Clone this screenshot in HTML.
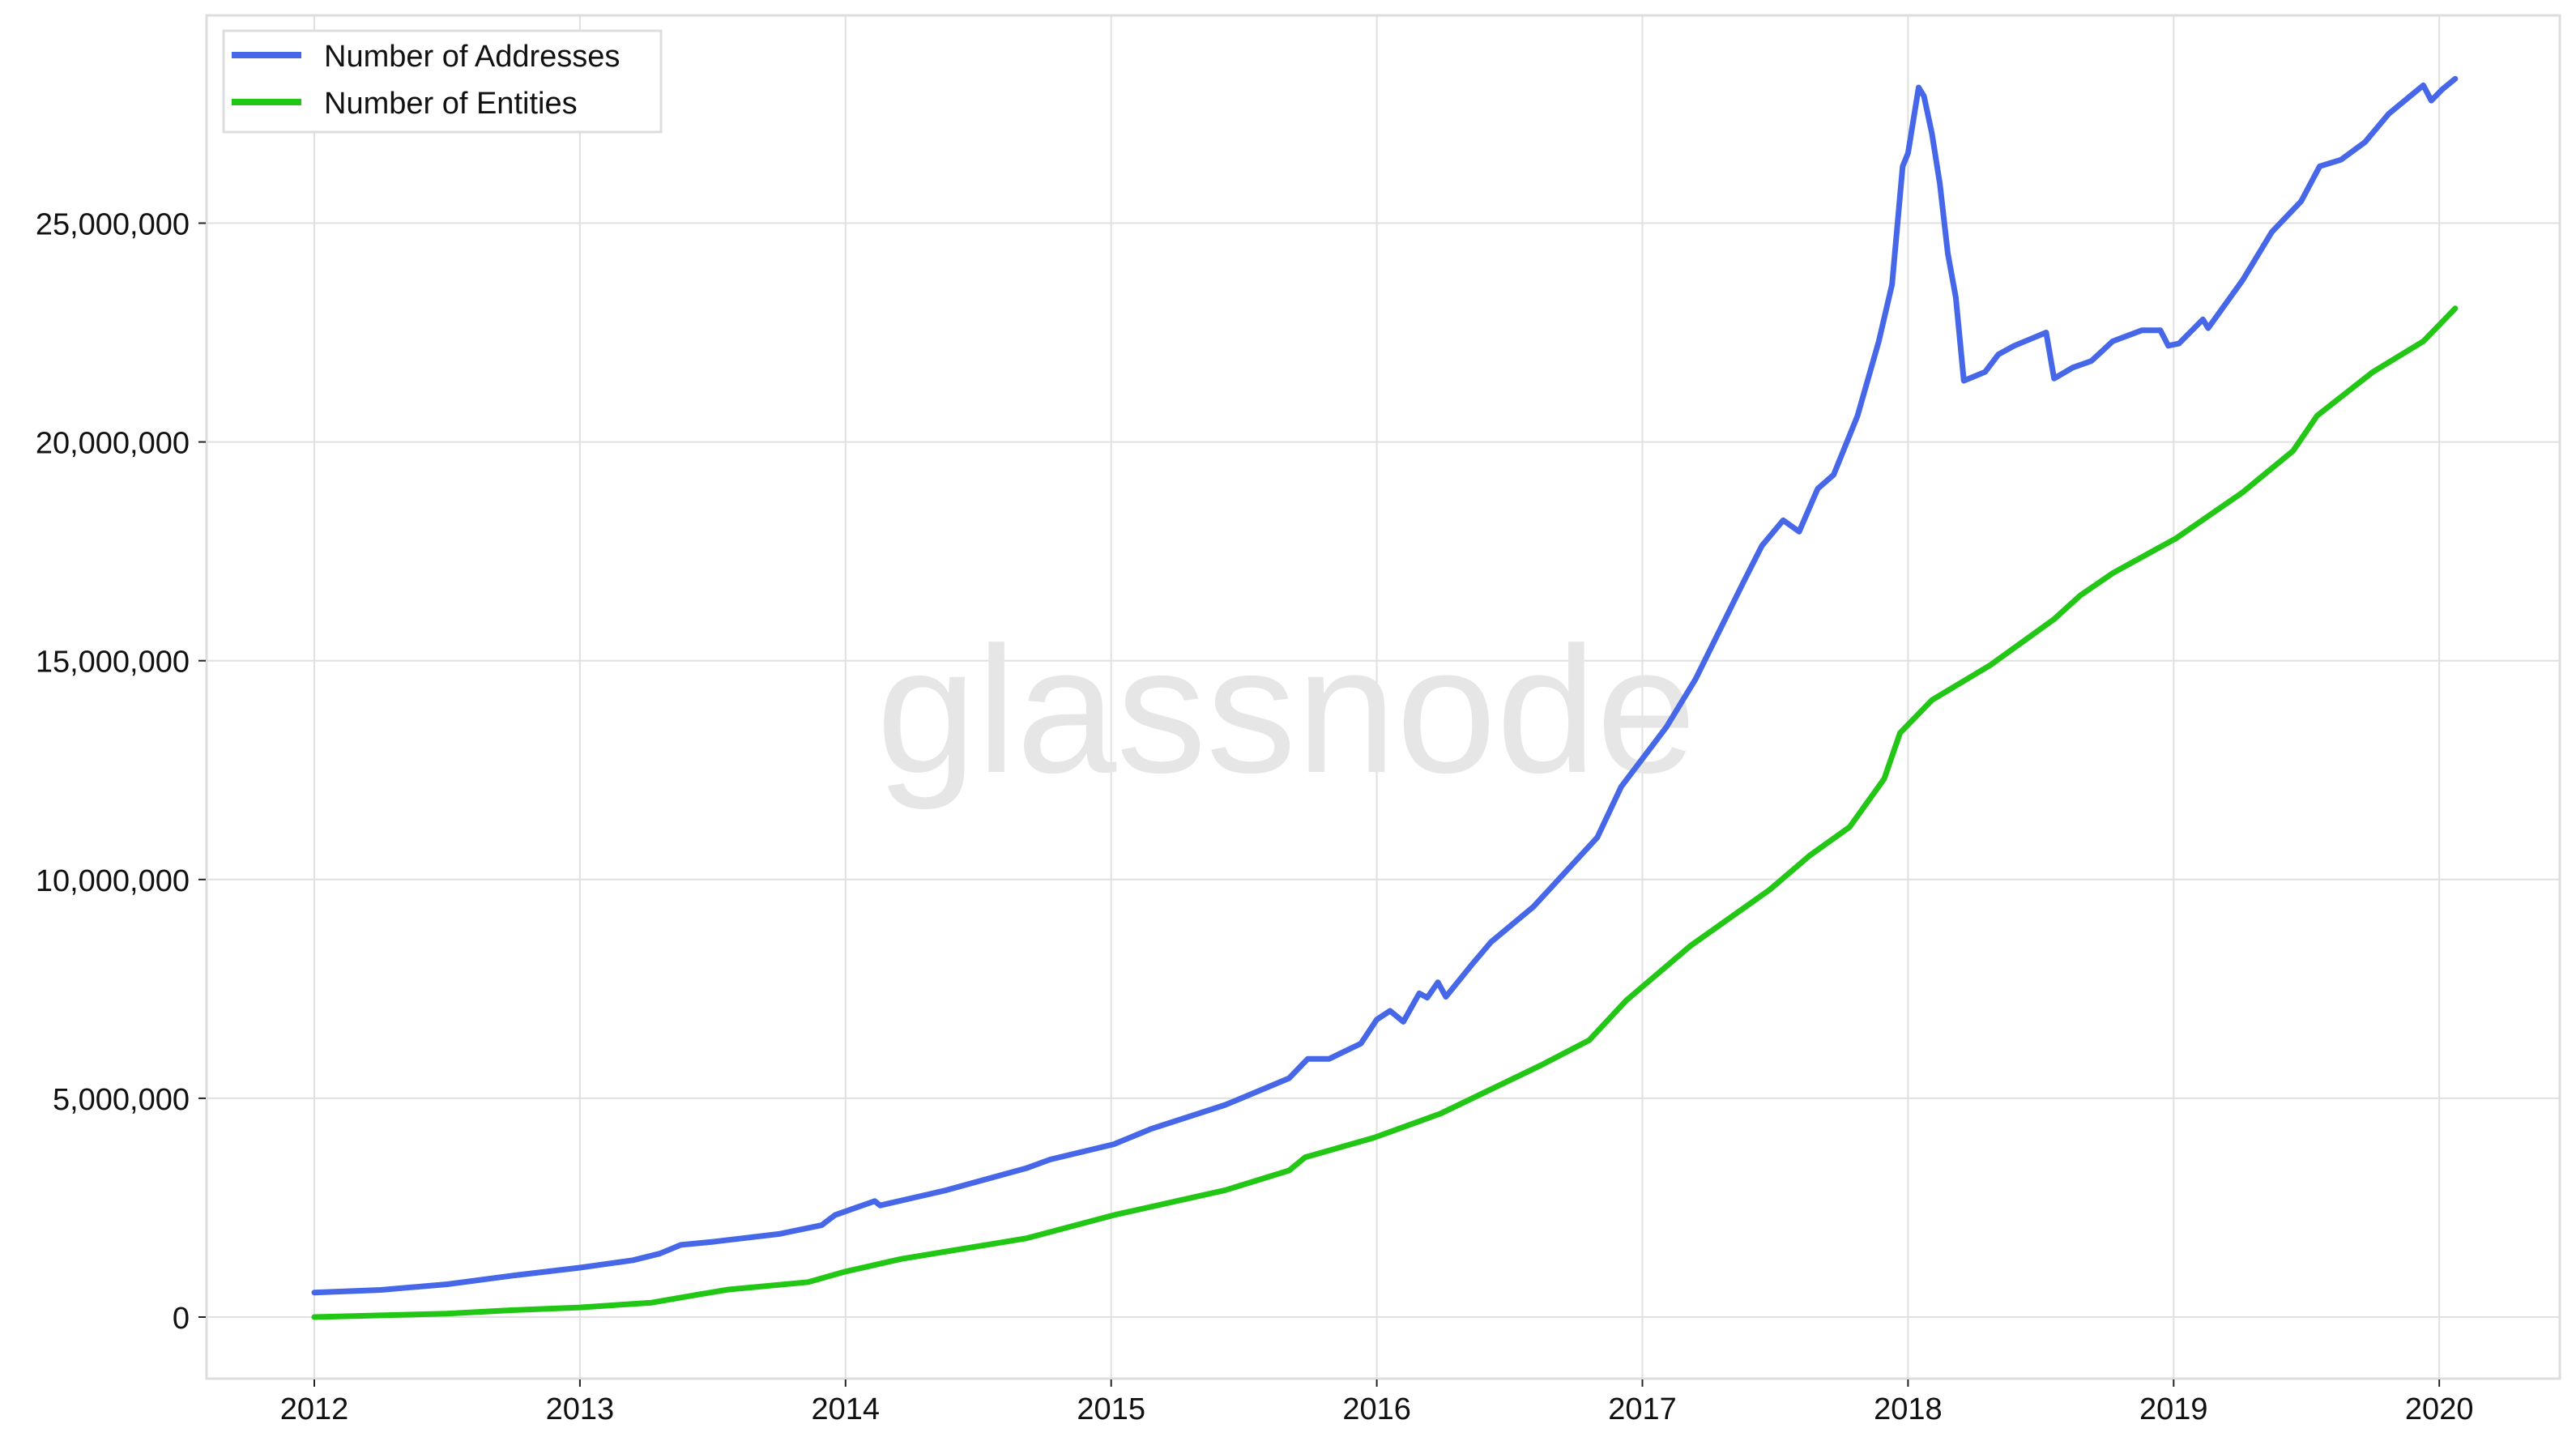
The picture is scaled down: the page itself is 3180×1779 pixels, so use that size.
<!DOCTYPE html>
<html><head><meta charset="utf-8"><style>
html,body{margin:0;padding:0;background:#fff;}
svg{display:block;font-family:"Liberation Sans",Arial,sans-serif;}
</style></head><body>
<svg id="chart" width="3180" height="1779" viewBox="0 0 3180 1779" xmlns="http://www.w3.org/2000/svg">
<rect x="0" y="0" width="3180" height="1779" fill="#fff"/>
<g id="grid"></g>
<text x="1588" y="953" text-anchor="middle" font-size="222" fill="#e6e6e6">glassnode</text>
<g id="series"></g>
<rect x="255" y="19" width="2905" height="1683" fill="none" stroke="#dddddd" stroke-width="3"/>
<g id="axes"></g>
<g>
<rect x="276" y="38" width="540" height="125" fill="#fff" stroke="#dddddd" stroke-width="3"/>
<line x1="286" y1="68" x2="372" y2="68" stroke="#4668e8" stroke-width="8"/>
<text x="400" y="82" font-size="38" fill="#111">Number of Addresses</text>
<line x1="286" y1="126" x2="372" y2="126" stroke="#22c614" stroke-width="8"/>
<text x="400" y="140" font-size="38" fill="#111">Number of Entities</text>
</g>
</svg>
<script>
const yearTicks = [2012,2013,2014,2015,2016,2017,2018,2019,2020];
const valueTicks = [0,5,10,15,20,25];
const valueTickLabels = ["0","5,000,000","10,000,000","15,000,000","20,000,000","25,000,000"];
const addrDates = [2012.0,2012.25,2012.5,2012.75,2013.0,2013.2,2013.3,2013.38,2013.5,2013.75,2013.91,2013.96,2014.11,2014.13,2014.38,2014.68,2014.77,2015.01,2015.15,2015.43,2015.67,2015.74,2015.82,2015.94,2016.0,2016.05,2016.10,2016.16,2016.19,2016.23,2016.26,2016.36,2016.43,2016.59,2016.83,2016.92,2017.09,2017.20,2017.38,2017.45,2017.53,2017.59,2017.66,2017.72,2017.81,2017.89,2017.94,2017.98,2018.0,2018.04,2018.06,2018.09,2018.12,2018.15,2018.18,2018.21,2018.25,2018.29,2018.34,2018.40,2018.46,2018.52,2018.55,2018.62,2018.69,2018.77,2018.88,2018.95,2018.98,2019.02,2019.11,2019.13,2019.26,2019.37,2019.48,2019.55,2019.63,2019.72,2019.81,2019.94,2019.97,2020.01,2020.06];
const addrValues = [0.56,0.62,0.75,0.95,1.13,1.30,1.45,1.65,1.72,1.90,2.10,2.33,2.65,2.55,2.90,3.40,3.60,3.95,4.30,4.85,5.46,5.90,5.90,6.25,6.80,7.00,6.75,7.40,7.30,7.65,7.32,8.07,8.57,9.38,10.96,12.12,13.48,14.58,16.79,17.63,18.21,17.95,18.93,19.25,20.6,22.3,23.6,26.3,26.6,28.1,27.9,27.05,25.9,24.3,23.3,21.4,21.5,21.6,22.0,22.2,22.35,22.5,21.45,21.7,21.85,22.3,22.55,22.55,22.2,22.25,22.8,22.6,23.7,24.8,25.5,26.3,26.45,26.85,27.5,28.15,27.8,28.05,28.3];
const entDates = [2012.0,2012.5,2012.75,2013.0,2013.27,2013.45,2013.56,2013.86,2014.0,2014.21,2014.68,2015.01,2015.43,2015.67,2015.73,2015.99,2016.24,2016.62,2016.8,2016.94,2017.18,2017.48,2017.63,2017.78,2017.91,2017.97,2018.09,2018.31,2018.55,2018.65,2018.77,2019.01,2019.26,2019.45,2019.54,2019.75,2019.94,2020.06];
const entValues = [0.0,0.08,0.16,0.22,0.33,0.52,0.63,0.80,1.04,1.33,1.80,2.33,2.90,3.35,3.65,4.10,4.65,5.76,6.33,7.24,8.48,9.77,10.55,11.2,12.3,13.35,14.1,14.9,15.95,16.5,17.0,17.8,18.85,19.8,20.6,21.6,22.3,23.05];

const NS = "http://www.w3.org/2000/svg";
function xScale(yr){ return 388 + (yr - 2012) * 327.9; }
function yScale(m){ return 1626 - m * 54.02; }
function mk(tag, attrs, parent){ const e = document.createElementNS(NS, tag); for (const k in attrs) e.setAttribute(k, attrs[k]); parent.appendChild(e); return e; }

const grid = document.getElementById('grid');
const axes = document.getElementById('axes');
yearTicks.forEach(function(yr){
  const x = xScale(yr);
  const gl = mk('line', {x1:x, y1:19, x2:x, y2:1702, stroke:'#e0e0e0', 'stroke-width':2}, grid);
  
  
  const tk = mk('line', {x1:x, y1:1703, x2:x, y2:1712, stroke:'#222', 'stroke-width':2}, axes);
  
  
  const t = mk('text', {x:x, y:1752, 'text-anchor':'middle', 'font-size':38, fill:'#111'}, axes);
  t.textContent = String(yr);
  
  
});
valueTicks.forEach(function(v, i){
  const y = yScale(v);
  const gl = mk('line', {x1:255, y1:y, x2:3160, y2:y, stroke:'#e0e0e0', 'stroke-width':2}, grid);
  
  
  const tk = mk('line', {x1:245, y1:y, x2:254, y2:y, stroke:'#222', 'stroke-width':2}, axes);
  
  
  const t = mk('text', {x:234, y:y + 14, 'text-anchor':'end', 'font-size':38, fill:'#111'}, axes);
  t.textContent = valueTickLabels[i];
  
  
});

const series = document.getElementById('series');
function pathFor(dates, vals){
  return dates.map(function(d, i){ return (i ? 'L' : 'M') + xScale(d).toFixed(1) + ' ' + yScale(vals[i]).toFixed(1); }).join(' ');
}
const ent = mk('path', {d:pathFor(entDates, entValues), fill:'none', stroke:'#22c614', 'stroke-width':7, 'stroke-linejoin':'round', 'stroke-linecap':'round'}, series);


const addr = mk('path', {d:pathFor(addrDates, addrValues), fill:'none', stroke:'#4668e8', 'stroke-width':7, 'stroke-linejoin':'round', 'stroke-linecap':'round'}, series);


</script>
</body></html>
